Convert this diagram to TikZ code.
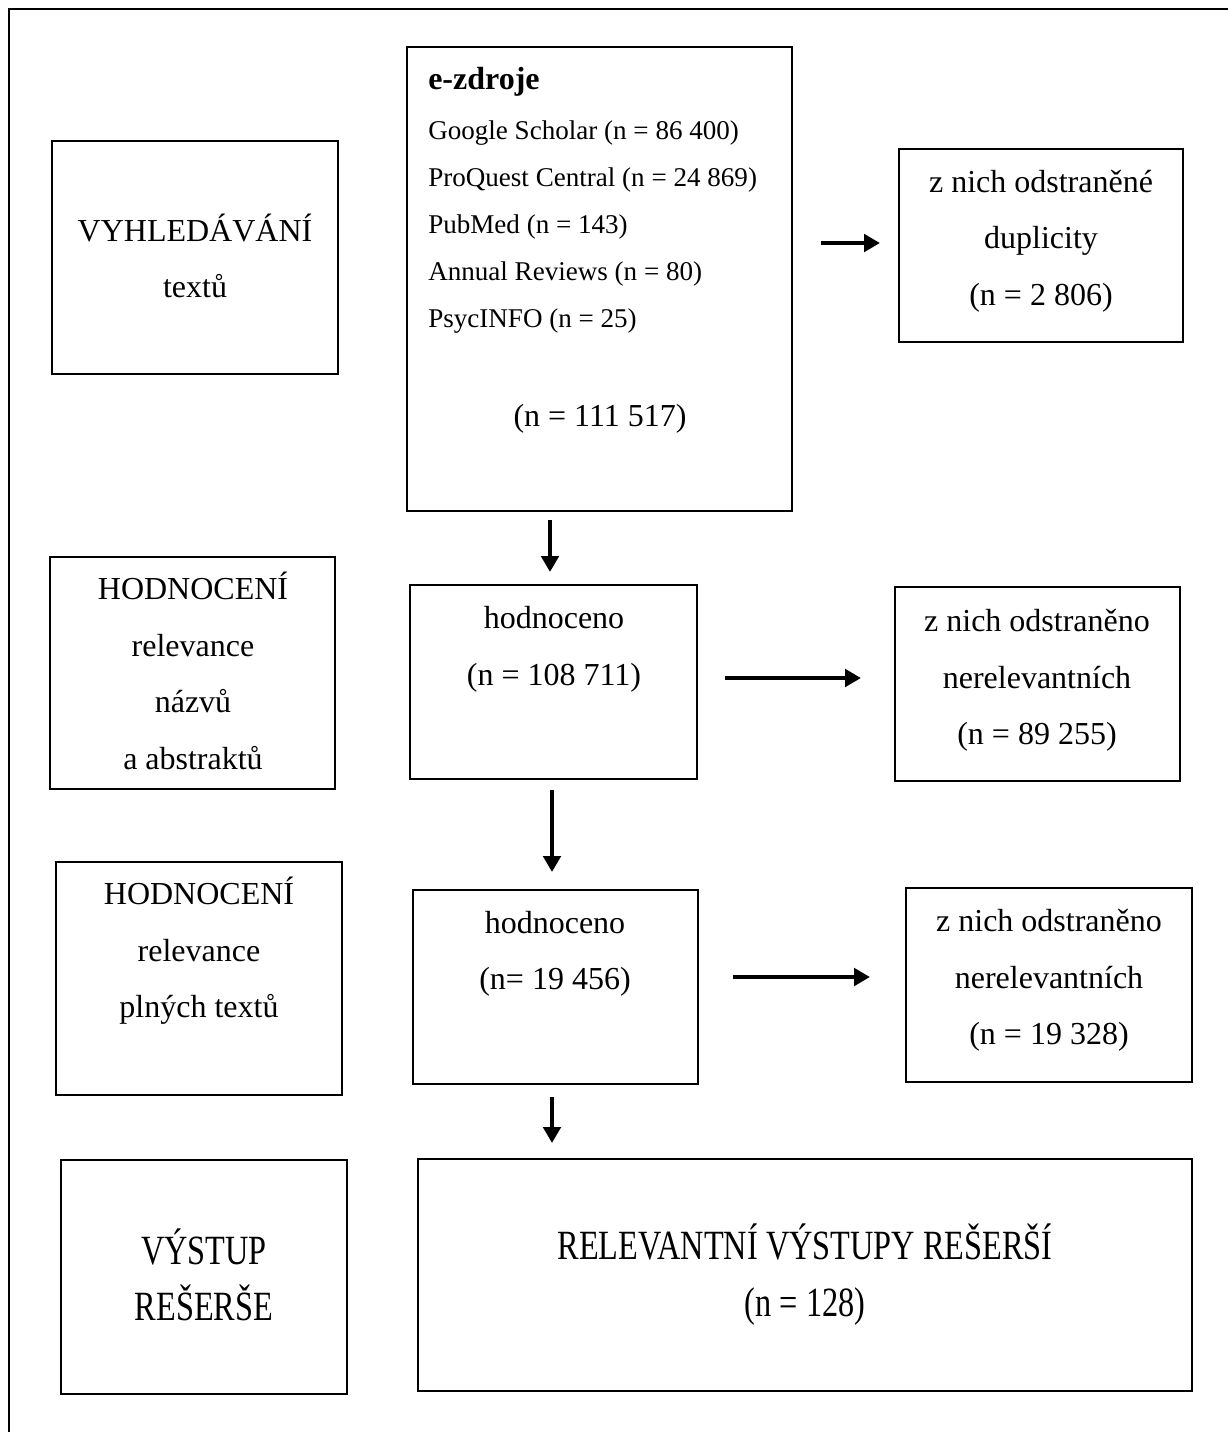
\documentclass[tikz,border=0pt]{standalone}
\usepackage{fontspec}
\setmainfont{Liberation Serif}
\usepackage{graphicx}
\usetikzlibrary{arrows.meta,fit}
\tikzset{
  box/.style={draw, line width=1.6pt, inner sep=0pt, rectangle},
  txt/.style={inner sep=0pt, align=center, font=\fontsize{24}{42.4}\selectfont},
  lst/.style={inner sep=0pt, align=left, font=\fontsize{20.3}{35.25}\selectfont},
  arr/.style={line width=3pt, -{Triangle[length=12pt,width=13pt]}},
  frame/.style={line width=1.5pt}
}
\newcommand{\tallt}[1]{\scalebox{1.01}[1.3]{#1}}
\begin{document}
\begin{tikzpicture}[x=0.75pt,y=-0.75pt]
\useasboundingbox (0,0) rectangle (1228,1432);
\fill[white] (0,0) rectangle (1228,1432);
% outer frame (only top and left edges visible)
\coordinate (fbl) at (9,1432);
\coordinate (ftl) at (9,9);
\coordinate (ftr) at (1228,9);
\draw[frame] (fbl) -- (ftl) -- (ftr);

% boxes
\node[box, fit={(52,141)(338,374)}] (b1) {};
\node[box, fit={(407,47)(792,511)}] (b2) {};
\node[box, fit={(899,149)(1183,342)}] (b3) {};
\node[box, fit={(50,557)(335,789)}] (b4) {};
\node[box, fit={(410,585)(697,779)}] (b5) {};
\node[box, fit={(895,587)(1180,781)}] (b6) {};
\node[box, fit={(56,862)(342,1095)}] (b7) {};
\node[box, fit={(413,890)(698,1084)}] (b8) {};
\node[box, fit={(906,888)(1192,1082)}] (b9) {};
\node[box, fit={(61,1160)(347,1394)}] (b10) {};
\node[box, fit={(418,1159)(1192,1391)}] (b11) {};

% texts
\node[txt] (t1) at (195,256) {VYHLEDÁVÁNÍ\\textů};
\node[txt, anchor=west] (t2a) at (428,82) {\bfseries e-zdroje};
\node[lst, anchor=west] (t2b) at (428,227) {Google Scholar (n = 86 400)\\ProQuest Central (n = 24 869)\\PubMed (n = 143)\\Annual Reviews (n = 80)\\PsycINFO (n = 25)};
\node[txt] (t2c) at (600,419) {(n = 111 517)};
\node[txt] (t3) at (1041,241) {z nich odstraněné\\duplicity\\(n = 2 806)};
\node[txt] (t4) at (193,671) {HODNOCENÍ\\relevance\\názvů\\a abstraktů};
\node[txt] (t5) at (554,649.5) {hodnoceno\\(n = 108 711)};
\node[txt] (t6) at (1037,680.5) {z nich odstraněno\\nerelevantních\\(n = 89 255)};
\node[txt] (t7) at (199,951) {HODNOCENÍ\\relevance\\plných textů};
\node[txt] (t8) at (555,954) {hodnoceno\\(n= 19 456)};
\node[txt] (t9) at (1049,980.5) {z nich odstraněno\\nerelevantních\\(n = 19 328)};
\node[txt] (t10) at (204,1275) {\tallt{VÝSTUP}\\\tallt{REŠERŠE}};
\node[txt] (t11) at (805,1274.5) {\tallt{RELEVANTNÍ VÝSTUPY REŠERŠÍ}\\\tallt{(n = 128)}};

% arrow end points
\coordinate (a1s) at (821,243); \coordinate (a1e) at (880,243);
\coordinate (d1s) at (550,520); \coordinate (d1e) at (550,572);
\coordinate (a2s) at (725,678); \coordinate (a2e) at (861,678);
\coordinate (d2s) at (552,790); \coordinate (d2e) at (552,872);
\coordinate (a3s) at (733,977); \coordinate (a3e) at (870,977);
\coordinate (d3s) at (552,1097); \coordinate (d3e) at (552,1143);
\draw[arr] (a1s) -- (a1e);
\draw[arr] (d1s) -- (d1e);
\draw[arr] (a2s) -- (a2e);
\draw[arr] (d2s) -- (d2e);
\draw[arr] (a3s) -- (a3e);
\draw[arr] (d3s) -- (d3e);
\end{tikzpicture}
\end{document}
